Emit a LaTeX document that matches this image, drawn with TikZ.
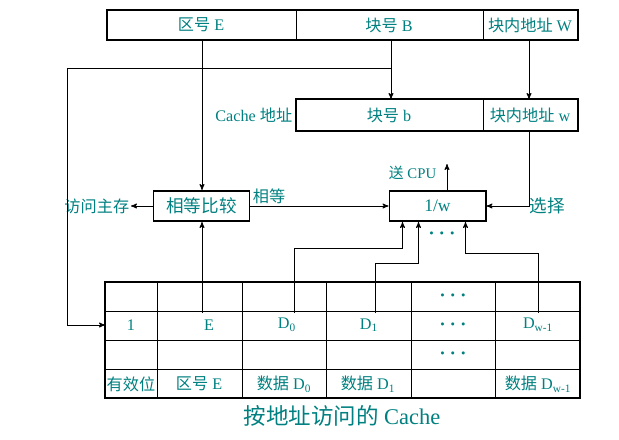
\documentclass[tikz,border=0pt]{standalone}
\usepackage{fontspec}
\setmainfont{Liberation Serif}
\newfontfamily\cjk{Noto Sans CJK SC}
\newcommand\zh[1]{{\cjk #1}}
\newcommand\more{{\boldmath$\cdots$}}
\usetikzlibrary{calc,arrows}
\definecolor{txtcol}{RGB}{0,128,128}

\begin{document}
\begin{tikzpicture}[x=0.025cm, y=-0.025cm, >=stealth', line width=0.6pt,
    frame/.style={line width=1.4pt},
    lbl/.style={text=txtcol, inner sep=1pt, font=\fontsize{11.5}{13}\selectfont},
    dotlbl/.style={lbl, font=\fontsize{15}{16}\selectfont},
    unit/.style={draw, line width=1.4pt, minimum width=2.4cm, minimum height=0.75cm,
      inner sep=0pt, text=txtcol, font=\fontsize{12.5}{14}\selectfont}]
    \useasboundingbox (0,0) rectangle (619,440);
    % main memory address
    \draw[frame] (107,10) rectangle (578,40);
    \foreach \x in {296,483} \draw (\x,10) -- (\x,40);
    \node[lbl] (aE) at (201,25) {\zh{区号} E};
    \node[lbl] (aB) at (389,25) {\zh{块号} B};
    \node[lbl] (aW) at (530,25) {\zh{块内地址} W};
    \coordinate (E) at (202,40);
    \coordinate (B) at (391,40);
    \coordinate (W) at (529,40);
    \coordinate (T) at (391,68);
    % cache address
    \draw[frame] (296,99) rectangle (578,131);
    \draw (483,99) -- (483,131);
    \node[lbl] (cb) at (389,115) {\zh{块号} b};
    \node[lbl] (cw) at (530,115) {\zh{块内地址} w};
    \node[lbl, anchor=east] (cname) at (294,115) {Cache \zh{地址}};
    \coordinate (b) at (391,99);
    \coordinate (w) at (529,99);
    \coordinate (wo) at (529,131);
    % compare and select
    \node[unit] (cmp) at (201.5,206) {\zh{相等比较}};
    \node[unit] (sel) at (437.5,206) {1/w};
    \node[lbl, anchor=east] (mem) at (131,206) {\zh{访问主存}};
    \node[lbl, anchor=south west] (eq) at (251,206) {\zh{相等}};
    \node[lbl, font=\fontsize{12.5}{14}\selectfont] (pick) at (547,206) {\zh{选择}};
    \coordinate (cpu) at (447,164);
    \node[lbl, anchor=east, font=\fontsize{10.5}{12}\selectfont] (cpulbl) at (438,173) {\zh{送} CPU};
    \node[dotlbl] (dots) at (442,234) {\more};
    \coordinate (in0) at ($(sel.south)+(-35,0)$);
    \coordinate (in1) at ($(sel.south)+(-19,0)$);
    \coordinate (in2) at ($(sel.south)+(28,0)$);
    % cache table
    \draw[frame] (105,282) rectangle (580,398);
    \foreach \x in {157,242,326,411,495} \draw (\x,282) -- (\x,398);
    \foreach \y in {311,340,369} \draw (105,\y) -- (580,\y);
    \foreach \y/\n in {296/a,325/b,354/c} \node[dotlbl] (dot\n) at (453,\y) {\more};
    \foreach \x/\t/\n in {131/1/v, 209/E/e, 287/D\textsubscript{0}/d0,
        369/D\textsubscript{1}/d1, 538/D\textsubscript{w-1}/dw}
      \node[lbl] (r\n) at (\x,325) {\t};
    \foreach \x/\t/\n in {131/\zh{有效位}/v, 199/\zh{区号} E/e, 284/\zh{数据} D\textsubscript{0}/d0,
        368/\zh{数据} D\textsubscript{1}/d1, 538/\zh{数据} D\textsubscript{w-1}/dw}
      \node[lbl] (h\n) at (\x,384) {\t};
    \coordinate (row) at (105,325);
    \coordinate (cE) at (202,313);
    \coordinate (cD0) at (294,313);
    \coordinate (cD1) at (375,313);
    \coordinate (cDw) at (538,313);
    % connectors
    \draw[->] (B) -- (b);
    \draw[->] (W) -- (w);
    \draw[->] (T) -- (67,68) |- (row);
    \draw[->] (E) -- (E |- cmp.north);
    \draw[->] (cmp.west) -- (mem.east);
    \draw[->] (cmp.east) -- (sel.west);
    \draw[->] (wo) |- (sel.east);
    \draw[->] (sel.north -| cpu) -- (cpu);
    \draw[->] (cE) -- (cE |- cmp.south);
    \draw[->] (cD0) |- ($(in0)+(0,26)$) -- (in0);
    \draw[->] (cD1) |- ($(in1)+(0,41)$) -- (in1);
    \draw[->] (cDw) |- ($(in2)+(0,31)$) -- (in2);
    % caption
    \node[lbl, font=\fontsize{16}{18}\selectfont] (title) at (342,416) {\zh{按地址访问的} Cache};
\end{tikzpicture}
\end{document}
